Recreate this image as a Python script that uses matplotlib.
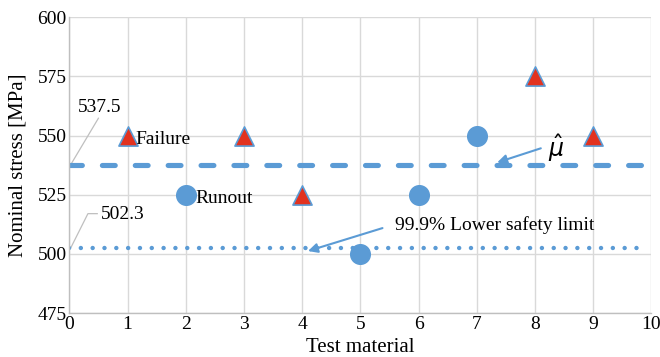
import numpy as np
import matplotlib.pyplot as plt

plt.rcParams['font.family'] = ['Liberation Serif', 'DejaVu Serif']

# Failure (triangles) and runout (circles) results
failure_x = [1, 3, 4, 8, 9]
failure_y = [550, 550, 525, 575, 550]
runout_x = [2, 5, 6, 7]
runout_y = [525, 500, 525, 550]

mean_stress = 537.5
lower_limit = 502.3
line_x = [0, 9.83]

x_ticks = list(range(0, 11))
y_ticks = [475, 500, 525, 550, 575, 600]

blue = '#5b9bd5'
red = '#e2321f'
gray = '#bfbfbf'

fig = plt.figure(figsize=(6.6, 3.57), dpi=100)
ax = fig.add_axes([0.105, 0.123, 0.882, 0.829])

ax.plot(line_x, [mean_stress, mean_stress], color=blue, lw=3.7,
        dashes=(2.5, 3.9), dash_capstyle='round', zorder=2)
ax.plot(line_x, [lower_limit, lower_limit], color=blue, lw=3.2,
        dashes=(0.01, 2.65), dash_capstyle='round', zorder=2)

ax.scatter(runout_x, runout_y, s=200, marker='o', color=blue, zorder=3)
ax.scatter(failure_x, failure_y, s=190, marker='^', color=red,
           edgecolors=blue, linewidths=1.2, zorder=3)

# Labels on the chart
ax.text(1.14, 548.5, 'Failure', fontsize=14, va='center', ha='left', zorder=4)
ax.text(2.17, 523.6, 'Runout', fontsize=14, va='center', ha='left', zorder=4)
ax.text(8.22, 544.8, r'$\hat{\mu}$', fontsize=17, va='center', ha='left')
ax.annotate('', xy=(7.35, 538.6), xytext=(8.1, 544.6),
            arrowprops=dict(arrowstyle='-|>', color=blue, lw=1.5,
                            mutation_scale=14, shrinkA=0, shrinkB=0))
ax.text(5.6, 512.2, '99.9% Lower safety limit', fontsize=14,
        va='center', ha='left')
ax.annotate('', xy=(4.1, 501.2), xytext=(5.38, 510.9),
            arrowprops=dict(arrowstyle='-|>', color=blue, lw=1.5,
                            mutation_scale=14, shrinkA=0, shrinkB=0))

# Value labels with leader lines
ax.plot([0.02, 0.5], [mean_stress, 557.3], color=gray, lw=0.9,
        clip_on=False, zorder=1)
ax.text(0.14, 562.0, '537.5', fontsize=14, va='center', ha='left')
ax.plot([0.02, 0.32, 0.48], [lower_limit, 517.0, 517.0], color=gray,
        lw=0.9, clip_on=False, zorder=1)
ax.text(0.54, 516.6, '502.3', fontsize=14, va='center', ha='left')

ax.set_xlim(0, 10)
ax.set_ylim(475, 600)
ax.set_xticks(x_ticks)
ax.set_yticks(y_ticks)
ax.tick_params(length=0, labelsize=14, pad=2)
ax.grid(True, color='#d9d9d9', lw=1)
ax.set_axisbelow(True)
for side in ['top', 'right']:
    ax.spines[side].set_visible(False)
for side in ['left', 'bottom']:
    ax.spines[side].set_color(gray)
    ax.spines[side].set_linewidth(1)

ax.set_xlabel('Test material', fontsize=15, labelpad=4)
ax.set_ylabel('Nominal stress [MPa]', fontsize=15, labelpad=7)

fig.savefig('out.png', dpi=100)
